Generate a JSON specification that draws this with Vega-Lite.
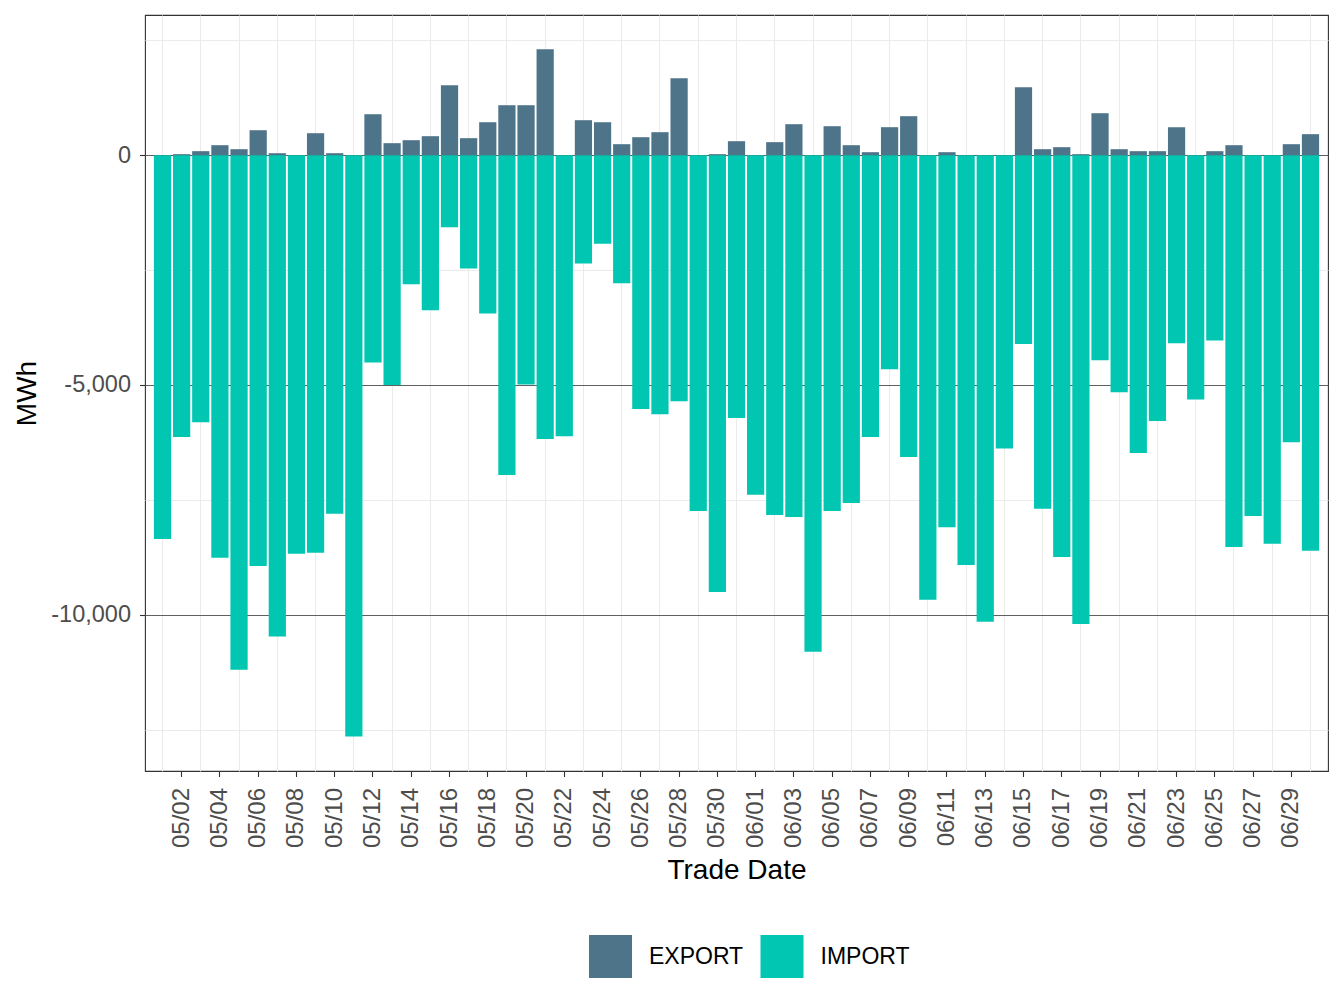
{
  "$schema": "https://vega.github.io/schema/vega-lite/v6.json",
  "width": 1183,
  "height": 756,
  "autosize": {"type": "none"},
  "padding": {"left": 145, "top": 15, "right": 16, "bottom": 237},
  "background": "white",
  "config": {"font": "Liberation Sans", "view": {"stroke": "#333333", "strokeWidth": 1.1}},
  "data": {"values": [
    {"date": "05/01", "EXPORT": 0, "IMPORT": -8350},
    {"date": "05/02", "EXPORT": 22, "IMPORT": -6135},
    {"date": "05/03", "EXPORT": 87, "IMPORT": -5810},
    {"date": "05/04", "EXPORT": 217, "IMPORT": -8760},
    {"date": "05/05", "EXPORT": 130, "IMPORT": -11195},
    {"date": "05/06", "EXPORT": 543, "IMPORT": -8940},
    {"date": "05/07", "EXPORT": 43, "IMPORT": -10475},
    {"date": "05/08", "EXPORT": 0, "IMPORT": -8675},
    {"date": "05/09", "EXPORT": 478, "IMPORT": -8650},
    {"date": "05/10", "EXPORT": 43, "IMPORT": -7805},
    {"date": "05/11", "EXPORT": 0, "IMPORT": -12650},
    {"date": "05/12", "EXPORT": 891, "IMPORT": -4510},
    {"date": "05/13", "EXPORT": 261, "IMPORT": -5000},
    {"date": "05/14", "EXPORT": 326, "IMPORT": -2810},
    {"date": "05/15", "EXPORT": 413, "IMPORT": -3375},
    {"date": "05/16", "EXPORT": 1522, "IMPORT": -1570},
    {"date": "05/17", "EXPORT": 370, "IMPORT": -2465},
    {"date": "05/18", "EXPORT": 717, "IMPORT": -3445},
    {"date": "05/19", "EXPORT": 1087, "IMPORT": -6960},
    {"date": "05/20", "EXPORT": 1087, "IMPORT": -4990},
    {"date": "05/21", "EXPORT": 2304, "IMPORT": -6175},
    {"date": "05/22", "EXPORT": 0, "IMPORT": -6115},
    {"date": "05/23", "EXPORT": 761, "IMPORT": -2355},
    {"date": "05/24", "EXPORT": 717, "IMPORT": -1925},
    {"date": "05/25", "EXPORT": 239, "IMPORT": -2785},
    {"date": "05/26", "EXPORT": 391, "IMPORT": -5525},
    {"date": "05/27", "EXPORT": 500, "IMPORT": -5635},
    {"date": "05/28", "EXPORT": 1674, "IMPORT": -5355},
    {"date": "05/29", "EXPORT": 0, "IMPORT": -7745},
    {"date": "05/30", "EXPORT": 22, "IMPORT": -9505},
    {"date": "05/31", "EXPORT": 304, "IMPORT": -5720},
    {"date": "06/01", "EXPORT": 0, "IMPORT": -7390},
    {"date": "06/02", "EXPORT": 283, "IMPORT": -7830},
    {"date": "06/03", "EXPORT": 674, "IMPORT": -7875},
    {"date": "06/04", "EXPORT": 0, "IMPORT": -10805},
    {"date": "06/05", "EXPORT": 630, "IMPORT": -7745},
    {"date": "06/06", "EXPORT": 217, "IMPORT": -7570},
    {"date": "06/07", "EXPORT": 65, "IMPORT": -6135},
    {"date": "06/08", "EXPORT": 609, "IMPORT": -4660},
    {"date": "06/09", "EXPORT": 848, "IMPORT": -6570},
    {"date": "06/10", "EXPORT": 0, "IMPORT": -9675},
    {"date": "06/11", "EXPORT": 65, "IMPORT": -8095},
    {"date": "06/12", "EXPORT": 0, "IMPORT": -8915},
    {"date": "06/13", "EXPORT": 0, "IMPORT": -10155},
    {"date": "06/14", "EXPORT": 0, "IMPORT": -6380},
    {"date": "06/15", "EXPORT": 1478, "IMPORT": -4110},
    {"date": "06/16", "EXPORT": 130, "IMPORT": -7695},
    {"date": "06/17", "EXPORT": 174, "IMPORT": -8745},
    {"date": "06/18", "EXPORT": 22, "IMPORT": -10200},
    {"date": "06/19", "EXPORT": 913, "IMPORT": -4460},
    {"date": "06/20", "EXPORT": 130, "IMPORT": -5160},
    {"date": "06/21", "EXPORT": 87, "IMPORT": -6480},
    {"date": "06/22", "EXPORT": 87, "IMPORT": -5785},
    {"date": "06/23", "EXPORT": 609, "IMPORT": -4095},
    {"date": "06/24", "EXPORT": 0, "IMPORT": -5315},
    {"date": "06/25", "EXPORT": 87, "IMPORT": -4030},
    {"date": "06/26", "EXPORT": 217, "IMPORT": -8525},
    {"date": "06/27", "EXPORT": 0, "IMPORT": -7850},
    {"date": "06/28", "EXPORT": 0, "IMPORT": -8455},
    {"date": "06/29", "EXPORT": 239, "IMPORT": -6245},
    {"date": "06/30", "EXPORT": 457, "IMPORT": -8610}
  ]},
  "transform": [{"fold": ["EXPORT", "IMPORT"], "as": ["type", "mwh"]}],
  "mark": {"type": "bar"},
  "encoding": {
    "x": {
      "field": "date",
      "type": "ordinal",
      "sort": null,
      "title": "Trade Date",
      "scale": {"paddingInner": 0.1, "paddingOuter": 0.465},
      "axis": {
        "domain": false,
        "grid": true,
        "bandPosition": 0.5,
        "gridColor": {"condition": {"test": "(substring(datum.value,0,2)=='05') != (toNumber(substring(datum.value,3,5)) % 2 == 0)", "value": "#ebebeb"}, "value": "transparent"},
        "gridWidth": 1.1,
        "tickColor": {"condition": {"test": "(substring(datum.value,0,2)=='05') == (toNumber(substring(datum.value,3,5)) % 2 == 0)", "value": "#333333"}, "value": "transparent"},
        "tickSize": 5.5,
        "tickWidth": 1.1,
        "labelExpr": "(substring(datum.value,0,2)=='05') == (toNumber(substring(datum.value,3,5)) % 2 == 0) ? datum.label : ''",
        "labelAngle": -90,
        "labelOverlap": false,
        "labelFontSize": 24,
        "labelColor": "#4d4d4d",
        "labelPadding": 11,
        "titleFontSize": 28,
        "titleFontWeight": "normal",
        "titleColor": "#000000",
        "titlePadding": 9
      }
    },
    "y": {
      "field": "mwh",
      "type": "quantitative",
      "stack": null,
      "title": "MWh",
      "scale": {"domain": [-13400, 3050], "nice": false, "zero": false},
      "axis": {
        "values": [-12500, -10000, -7500, -5000, -2500, 0, 2500],
        "domain": false,
        "grid": true,
        "gridColor": {"condition": {"test": "datum.value % 5000 == 0", "value": "#606060"}, "value": "#ebebeb"},
        "gridWidth": 1.1,
        "tickColor": {"condition": {"test": "datum.value % 5000 == 0", "value": "#333333"}, "value": "transparent"},
        "tickSize": 5.5,
        "tickWidth": 1.1,
        "labelExpr": "datum.value == 0 ? '0' : datum.value == -5000 ? '-5,000' : datum.value == -10000 ? '-10,000' : ''",
        "labelFontSize": 23.5,
        "labelColor": "#4d4d4d",
        "labelPadding": 9,
        "titleFontSize": 28,
        "titleFontWeight": "normal",
        "titleColor": "#000000",
        "titlePadding": 9
      }
    },
    "color": {
      "field": "type",
      "type": "nominal",
      "scale": {"domain": ["EXPORT", "IMPORT"], "range": ["#4E7489", "#00C6B2"]},
      "legend": {
        "orient": "none",
        "legendX": 444,
        "legendY": 920,
        "direction": "horizontal",
        "title": null,
        "symbolType": "square",
        "symbolSize": 1849,
        "symbolStrokeWidth": 0,
        "symbolOpacity": 1,
        "labelFontSize": 23,
        "labelColor": "#000000",
        "labelOffset": 17,
        "columnPadding": 16.5,
        "padding": 0
      }
    }
  }
}
